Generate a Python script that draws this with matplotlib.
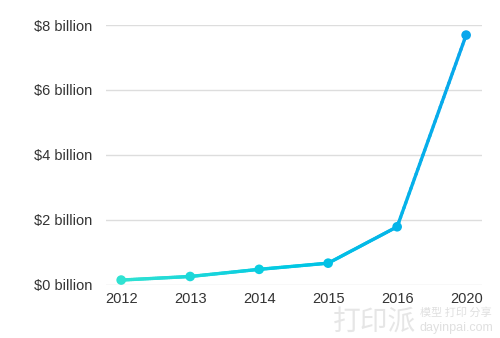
import numpy as np
import matplotlib.pyplot as plt
from matplotlib.collections import LineCollection
from matplotlib.colors import LinearSegmentedColormap

years = ["2012", "2013", "2014", "2015", "2016", "2020"]
values = [0.15, 0.26, 0.48, 0.67, 1.79, 7.69]  # billions of dollars
yticks = [0, 2, 4, 6, 8]
ytick_labels = ["$0 billion", "$2 billion", "$4 billion", "$6 billion", "$8 billion"]

plt.rcParams['font.family'] = ['Liberation Sans', 'DejaVu Sans']

fig = plt.figure(figsize=(5, 3.38), dpi=100)
ax = fig.add_axes([0.212, 0.157, 0.752, 0.769])

cmap = LinearSegmentedColormap.from_list("tealblue", ["#30e2d2", "#00c8e4", "#08a6ec"])

x = np.arange(len(years))
y = np.array(values)

# fine gradient along the line
xs, ys = [], []
for i in range(len(x) - 1):
    t = np.linspace(0, 1, 40, endpoint=False)
    xs.extend(x[i] + t * (x[i + 1] - x[i]))
    ys.extend(y[i] + t * (y[i + 1] - y[i]))
xs.append(x[-1])
ys.append(y[-1])
xs, ys = np.array(xs), np.array(ys)
pts = np.column_stack([xs, ys]).reshape(-1, 1, 2)
segs = np.concatenate([pts[:-1], pts[1:]], axis=1)
lc = LineCollection(segs, colors=cmap(xs[:-1] / x[-1]), linewidths=2.4,
                    capstyle='round', zorder=3)
ax.add_collection(lc)
ax.scatter(x, y, s=48, c=cmap(x / x[-1]), zorder=4, linewidths=0)

ax.set_xlim(-0.22, len(years) - 1 + 0.23)
ax.set_ylim(0, 8)
ax.set_yticks(yticks)
ax.set_yticklabels(ytick_labels)
ax.set_xticks(x)
ax.set_xticklabels(years)
ax.tick_params(axis='both', length=0, labelsize=10.5, colors='#333333')
ax.tick_params(axis='y', pad=10)
ax.tick_params(axis='x', pad=5)
ax.grid(axis='y', color='#dddddd', linewidth=1)
ax.set_axisbelow(True)
for s in ax.spines.values():
    s.set_visible(False)

# watermark
fig.text(0.665, 0.004, "打印派", fontsize=20, color='#e6e6e6',
         family=['Noto Sans CJK SC', 'DejaVu Sans'], ha='left', va='bottom')
fig.text(0.84, 0.075, "模型 打印 分享", fontsize=8, color='#e0e0e0',
         family=['Noto Sans CJK SC', 'DejaVu Sans'], ha='left', va='center')
fig.text(0.84, 0.03, "dayinpai.com", fontsize=9, color='#e0e0e0',
         ha='left', va='center')

fig.savefig("out.png", dpi=100)
